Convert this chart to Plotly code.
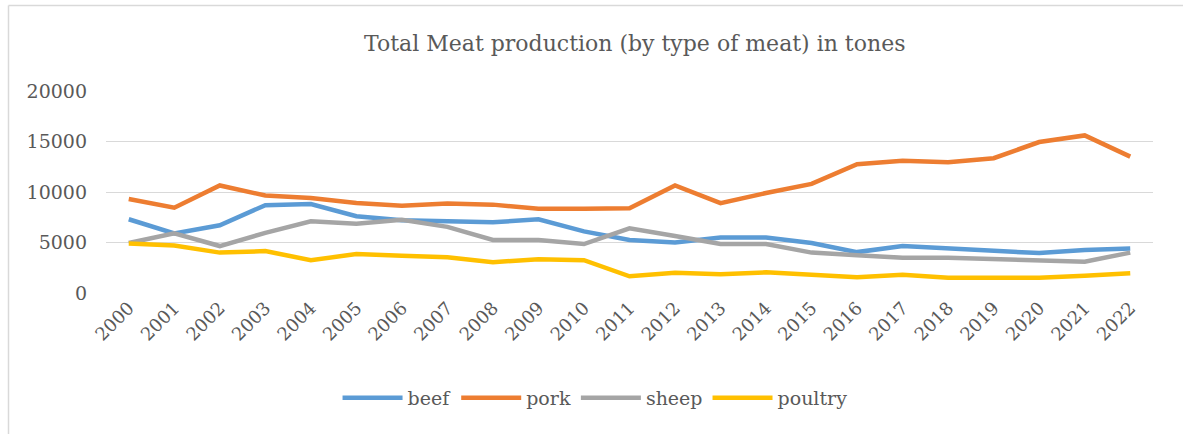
import plotly.graph_objects as go

years = [str(y) for y in range(2000, 2023)]

beef = [7300, 5900, 6700, 8700, 8800, 7600, 7200, 7050, 7000, 7300, 6100, 5250,
        5000, 5500, 5500, 4950, 4050, 4650, 4400, 4150, 3950, 4250, 4400]
pork = [9300, 8450, 10650, 9650, 9400, 8900, 8650, 8850, 8750, 8350, 8350, 8400,
        10650, 8900, 9900, 10800, 12750, 13100, 12950, 13350, 14950, 15600, 13500]
sheep = [4950, 5900, 4650, 5950, 7100, 6850, 7250, 6550, 5250, 5250, 4850, 6400,
         5650, 4850, 4850, 4000, 3750, 3500, 3500, 3400, 3200, 3100, 4000]
poultry = [4900, 4700, 4000, 4150, 3250, 3850, 3700, 3550, 3050, 3350, 3250, 1650,
           2000, 1850, 2050, 1750, 1550, 1800, 1500, 1500, 1500, 1700, 1950]

series = [
    ("beef", beef, "#5B9BD5"),
    ("pork", pork, "#ED7D31"),
    ("sheep", sheep, "#A5A5A5"),
    ("poultry", poultry, "#FFC000"),
]

FONT = "DejaVu Serif"
GREY = "#595959"

fig = go.Figure()
for name, vals, color in series:
    fig.add_trace(go.Scatter(
        x=years, y=vals, name=name, mode="lines",
        line=dict(color=color, width=4.5, shape="linear"),
    ))

fig.update_layout(
    width=1183, height=434,
    margin=dict(l=106, r=30, t=91, b=141),
    paper_bgcolor="white", plot_bgcolor="white",
    font=dict(family=FONT, color=GREY),
    title=dict(
        text="Total Meat production (by type of meat) in tones",
        x=0.505, xref="paper", xanchor="center",
        y=1 - 43 / 434, yref="container", yanchor="middle",
        font=dict(family=FONT, size=22, color=GREY),
    ),
    xaxis=dict(
        type="category", range=[-0.5, 22.5], tickangle=-45,
        showgrid=False, showline=False,
        ticks="", tickfont=dict(family=FONT, size=18, color=GREY),
        zeroline=False,
    ),
    yaxis=dict(
        range=[0, 20000], tickvals=[0, 5000, 10000, 15000, 20000],
        ticktext=["0", "5000", "10000", "15000", "20000"],
        showgrid=True, gridcolor="#D9D9D9", gridwidth=1.3,
        zeroline=False, showline=False, ticks="",
        tickfont=dict(family=FONT, size=19, color=GREY),
        ticklabelstandoff=18,
    ),
    legend=dict(
        orientation="h", x=0.503, xref="container", xanchor="center",
        y=(434 - 398) / 434, yref="container", yanchor="middle",
        font=dict(family=FONT, size=19, color=GREY),
        itemwidth=60,
    ),
    showlegend=True,
)

# chart-area border (top and left edges)
fig.add_shape(type="line", xref="paper", yref="paper",
              x0=(8.5 - 106) / 1047, x1=(1183 - 106) / 1047,
              y0=1 + (91 - 5.5) / 202, y1=1 + (91 - 5.5) / 202,
              line=dict(color="#D9D9D9", width=1.5))
fig.add_shape(type="line", xref="paper", yref="paper",
              x0=(8.5 - 106) / 1047, x1=(8.5 - 106) / 1047,
              y0=1 + (91 - 5.5) / 202, y1=-141 / 202,
              line=dict(color="#D9D9D9", width=1.5))

fig.write_html("out.html")
